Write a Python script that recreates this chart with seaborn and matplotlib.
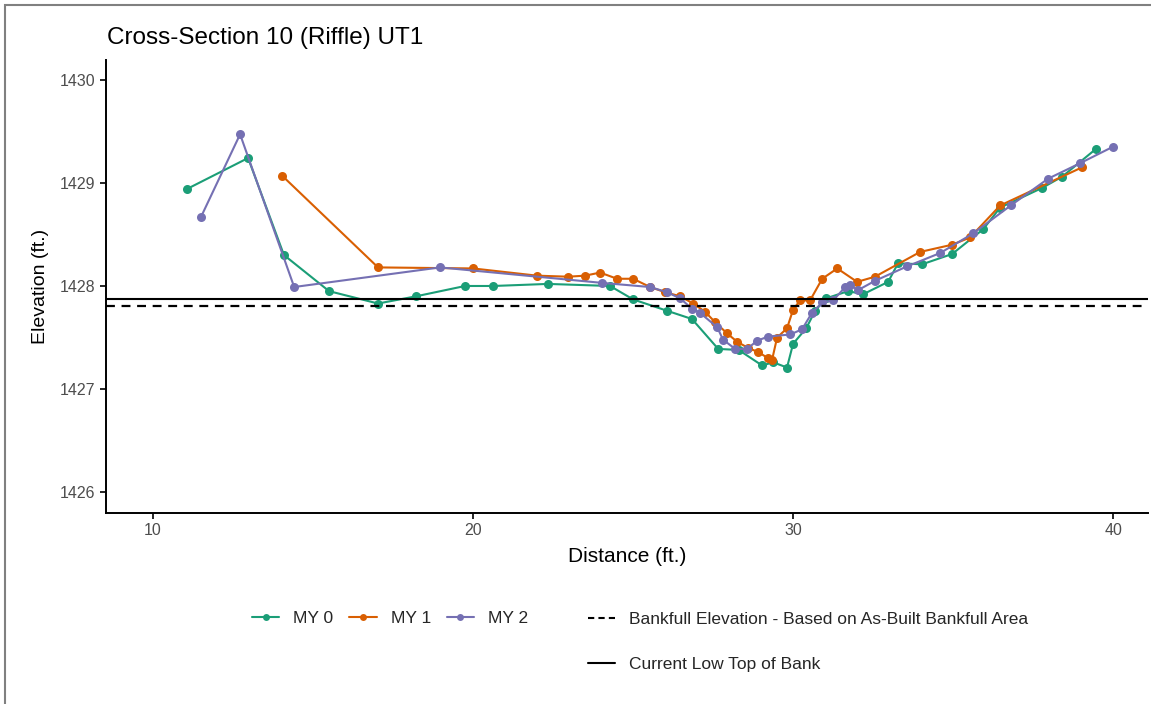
import numpy as np
import pandas as pd
import matplotlib
matplotlib.use('Agg')
import matplotlib.pyplot as plt
from matplotlib.lines import Line2D
from matplotlib.patches import Rectangle
import seaborn as sns

# survey data
my0_x = [11.06, 12.97, 14.09, 15.50, 17.03, 18.22, 19.75, 20.63, 22.34, 24.28, 25.00, 26.06, 26.84,
         27.66, 28.30, 29.03, 29.38, 29.81, 30.00, 30.41, 30.69, 31.03, 31.72, 32.19, 32.97, 33.28,
         34.03, 34.97, 35.94, 36.47, 37.78, 38.41, 39.47]
my0_y = [1428.94, 1429.24, 1428.30, 1427.95, 1427.83, 1427.90, 1428.00, 1428.00, 1428.02, 1428.00,
         1427.87, 1427.76, 1427.68, 1427.39, 1427.38, 1427.23, 1427.26, 1427.21, 1427.44, 1427.59,
         1427.76, 1427.88, 1427.95, 1427.92, 1428.04, 1428.22, 1428.21, 1428.31, 1428.55, 1428.76,
         1428.95, 1429.06, 1429.33]

my1_x = [14.03, 17.03, 20.00, 22.00, 22.97, 23.50, 23.97, 24.50, 25.00, 25.53, 26.00, 26.47, 26.88,
         27.25, 27.56, 27.94, 28.25, 28.59, 28.91, 29.22, 29.34, 29.50, 29.81, 30.00, 30.22, 30.53,
         30.91, 31.38, 32.00, 32.56, 33.97, 34.97, 35.53, 36.47, 39.03]
my1_y = [1429.07, 1428.18, 1428.17, 1428.10, 1428.09, 1428.10, 1428.13, 1428.07, 1428.07, 1427.99,
         1427.94, 1427.90, 1427.83, 1427.75, 1427.65, 1427.54, 1427.46, 1427.40, 1427.36, 1427.30,
         1427.28, 1427.50, 1427.59, 1427.77, 1427.86, 1427.86, 1428.07, 1428.17, 1428.04, 1428.09,
         1428.33, 1428.40, 1428.47, 1428.78, 1429.15]

my2_x = [11.50, 12.72, 14.41, 18.97, 24.03, 25.53, 26.06, 26.47, 26.84, 27.09, 27.63, 27.81, 28.19,
         28.56, 28.88, 29.22, 29.91, 30.28, 30.59, 30.91, 31.25, 31.63, 31.78, 32.03, 32.56, 33.56,
         34.60, 35.63, 36.80, 37.97, 38.97, 40.00]
my2_y = [1428.67, 1429.47, 1427.99, 1428.18, 1428.03, 1427.99, 1427.94, 1427.88, 1427.78, 1427.74,
         1427.60, 1427.48, 1427.39, 1427.39, 1427.47, 1427.51, 1427.53, 1427.58, 1427.74, 1427.84,
         1427.86, 1427.99, 1428.01, 1427.96, 1428.05, 1428.19, 1428.32, 1428.51, 1428.78, 1429.04,
         1429.19, 1429.35]

bankfull_elev = 1427.81
low_top_bank = 1427.87

surveys = ['MY 0', 'MY 1', 'MY 2']
colors = ['#1B9E77', '#D95F02', '#7570B3']

df = pd.concat([
    pd.DataFrame({'dist': my0_x, 'elev': my0_y, 'survey': 'MY 0'}),
    pd.DataFrame({'dist': my1_x, 'elev': my1_y, 'survey': 'MY 1'}),
    pd.DataFrame({'dist': my2_x, 'elev': my2_y, 'survey': 'MY 2'}),
], ignore_index=True)

sns.set_theme(style='white')
plt.rcParams['font.family'] = ['Liberation Sans', 'DejaVu Sans']

fig = plt.figure(figsize=(11.51, 7.04), dpi=100)
ax = fig.add_axes([106 / 1151, 1 - 513 / 704, (1148 - 106) / 1151, (513 - 60) / 704])

sns.lineplot(data=df, x='dist', y='elev', hue='survey', hue_order=surveys,
             palette=dict(zip(surveys, colors)), sort=False, estimator=None,
             marker='o', markersize=6.5, markeredgewidth=0, linewidth=1.5,
             legend=False, ax=ax)

ax.axhline(bankfull_elev, color='black', lw=1.6, ls=(0, (4, 3)))
ax.axhline(low_top_bank, color='black', lw=1.5)

ax.set_xlim(8.53, 41.09)
ax.set_ylim(1425.80, 1430.19)
ax.set_xticks([10, 20, 30, 40])
ax.set_yticks([1426, 1427, 1428, 1429, 1430])

for s in ['top', 'right']:
    ax.spines[s].set_visible(False)
for s in ['left', 'bottom']:
    ax.spines[s].set_color('black')
    ax.spines[s].set_linewidth(1.4)

ax.tick_params(axis='both', which='major', direction='out', length=4, width=1.2,
               color='black', labelsize=11.5, labelcolor='#4d4d4d', bottom=True, left=True)
ax.set_xlabel('Distance (ft.)', fontsize=15, color='black', labelpad=6)
ax.set_ylabel('Elevation (ft.)', fontsize=14, color='black', labelpad=8)
fig.text(107 / 1151, 1 - 38 / 704, 'Cross-Section 10 (Riffle) UT1', fontsize=17.5,
         ha='left', va='center', color='black')

# legends
series_handles = [Line2D([], [], color=c, marker='o', markersize=5, lw=1.5, markeredgewidth=0)
                  for c in colors]
fig.legend(series_handles, surveys, loc='center left', bbox_to_anchor=(236 / 1151, 1 - 618 / 704),
           ncol=3, frameon=False, fontsize=12.5, handlelength=1.6, handletextpad=0.8,
           columnspacing=0.9)
line_handles = [Line2D([], [], color='black', lw=1.5, ls=(0, (3, 2))),
                Line2D([], [], color='black', lw=1.5)]
fig.legend(line_handles, ['Bankfull Elevation - Based on As-Built Bankfull Area',
                          'Current Low Top of Bank'],
           loc='upper left', bbox_to_anchor=(572 / 1151, 1 - 596 / 704), ncol=1, frameon=False,
           fontsize=12.5, handlelength=1.6, handletextpad=0.8, labelspacing=1.75)

# outer frame as in the reference
fig.add_artist(Rectangle((5 / 1151, -0.1), 1.2, 1.1 - 5 / 704, transform=fig.transFigure,
                         fill=False, edgecolor='#808080', lw=1.5))

fig.savefig('out.png', dpi=100)
